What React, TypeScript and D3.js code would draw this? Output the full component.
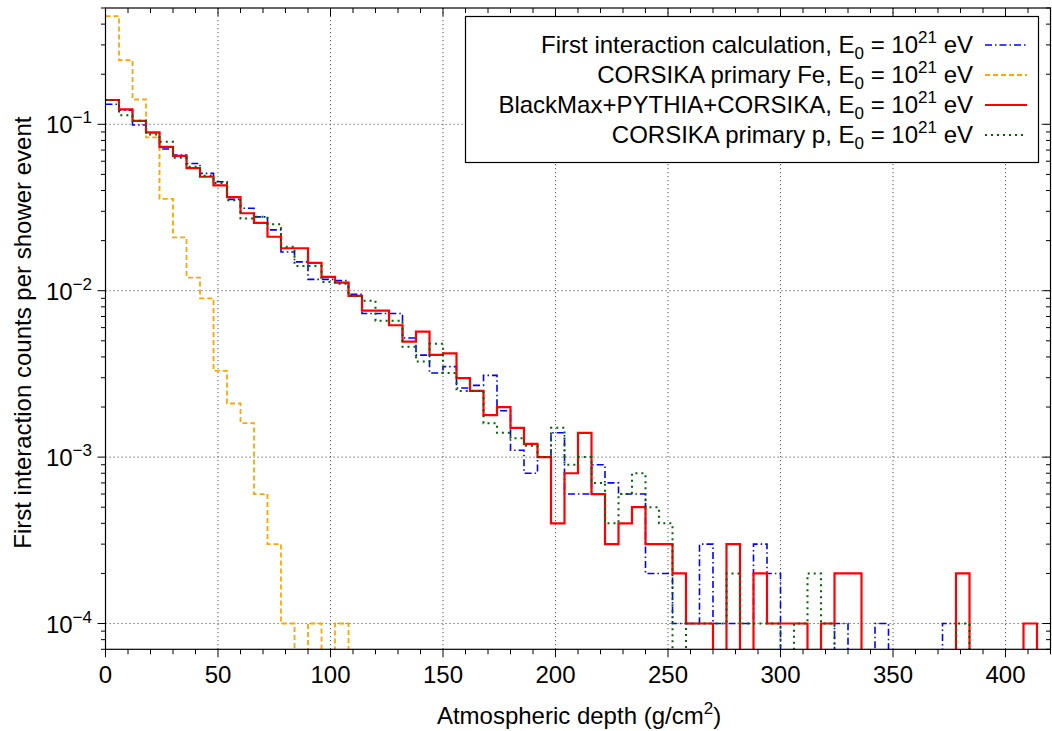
import React from "react";
import * as d3 from "d3";

// ---- data (bin width 6 g/cm^2, bins start at 0) ----
const BIN_WIDTH = 6;

const firstInteraction = [
  0.132, 0.1216, 0.099, 0.089, 0.071, 0.0653, 0.0582, 0.0507, 0.0452, 0.0354,
  0.0313, 0.0278, 0.0232, 0.0171, 0.0149, 0.0117, 0.0117, 0.0115, 0.0095, 0.0073,
  0.0073, 0.0073, 0.0052, 0.0041, 0.0032, 0.0035, 0.0026, 0.0027, 0.0031, 0.0019,
  0.0011, 0.0008, 0.001, 0.0014, 0.0006, 0.0006, 0.0009, 0.0007, 0.0006, 0.0006,
  0.0002, 0.0002, 0.0001, 0.0001, 0.0003, 0.0001, 0.0001, 0.0001, 0.0003, 0.0002,
  0, 0, 0, 0, 0.0001, 0, 0, 0.0001, 0, 0,
  0, 0, 0.0001, 0, 0, 0, 0, 0, 0, 0,
];

const corsikaFe = [
  0.447, 0.243, 0.141, 0.0834, 0.0356, 0.0209, 0.012, 0.009, 0.0033, 0.0021,
  0.0016, 0.0006, 0.0003, 0.0001, 0, 0.0001, 0, 0.0001, 0, 0,
];

const blackMax = [
  0.14, 0.123, 0.105, 0.0894, 0.0732, 0.0647, 0.0546, 0.0484, 0.043, 0.0365,
  0.0292, 0.0256, 0.0211, 0.018, 0.018, 0.0147, 0.0121, 0.0112, 0.0093, 0.0076,
  0.0076, 0.0062, 0.00494, 0.00568, 0.00411, 0.0042, 0.00298, 0.0025, 0.00179, 0.002,
  0.0015, 0.0012, 0.001, 0.0004, 0.0008, 0.0014, 0.0006, 0.0003, 0.0004, 0.0005,
  0.0003, 0.0003, 0.0002, 0.0001, 0.0001, 0, 0.0003, 0, 0.0002, 0.0001,
  0.0001, 0.0001, 0, 0.0001, 0.0002, 0.0002, 0, 0, 0, 0,
  0, 0, 0, 0.0002, 0, 0, 0, 0, 0.0001, 0,
];

const corsikaP = [
  0.14, 0.1135, 0.105, 0.087, 0.0786, 0.063, 0.0555, 0.049, 0.0444, 0.035,
  0.0272, 0.0278, 0.0251, 0.0184, 0.0141, 0.0141, 0.0113, 0.011, 0.0093, 0.0087,
  0.0066, 0.0066, 0.0046, 0.00375, 0.0048, 0.0032, 0.0025, 0.0025, 0.0016, 0.0014,
  0.0013, 0.00117, 0.001, 0.0015, 0.0009, 0.001, 0.0007, 0.0004, 0.0006, 0.0008,
  0.0005, 0.0004, 0, 0.0001, 0.0001, 0.0001, 0.0002, 0.0001, 0.0001, 0.0001,
  0, 0.0001, 0.0002, 0.0001, 0, 0, 0, 0, 0, 0,
  0, 0, 0, 0.0001, 0, 0, 0, 0, 0, 0,
];

const xTicks = [0, 50, 100, 150, 200, 250, 300, 350, 400];
const yTickExps = [-1, -2, -3, -4];

const series = [
  { name: "First interaction calculation, E", values: firstInteraction, color: "#0000ff", dash: "7,3,1.5,3", width: 1.6 },
  { name: "CORSIKA primary Fe, E", values: corsikaFe, color: "#ffa500", dash: "5,3", width: 1.8 },
  { name: "BlackMax+PYTHIA+CORSIKA, E", values: blackMax, color: "#ff0000", dash: "", width: 2.2 },
  { name: "CORSIKA primary p, E", values: corsikaP, color: "#006400", dash: "2,4", width: 2 },
];

const W = 1052;
const H = 731;
const L = 105.5;
const R = 1050.5;
const T = 8;
const B = 649.3;
const FONT = "'Liberation Sans', Arial, Helvetica, sans-serif";
const FS = 24;
const FS_SMALL = 17;

export default function App() {
  const x = d3.scaleLinear().domain([0, 420]).range([L, R]);
  const y = d3.scaleLog().domain([7e-5, 0.5]).range([B, T]);

  const line = d3
    .line<[number, number]>()
    .x((d) => x(d[0]))
    .y((d) => (d[1] > 0 ? y(d[1]) : B + 60))
    .curve(d3.curveStepAfter);

  const pathFor = (vals: number[]) => {
    const pts: [number, number][] = vals.map((v, i) => [i * BIN_WIDTH, v]);
    pts.push([vals.length * BIN_WIDTH, vals[vals.length - 1]]);
    return line(pts) || "";
  };

  const xMinor = d3.range(0, 421, 10);
  const yMinor: number[] = [];
  for (let e = -5; e <= -1; e++) {
    for (let m = 1; m <= 9; m++) {
      const v = m * Math.pow(10, e);
      if (v >= 7e-5 && v <= 0.5) yMinor.push(v);
    }
  }

  const legendTextX = 973;
  const legendRowY = [45, 75, 105, 135];

  return (
    <svg
      width={W}
      height={H}
      style={{ position: "absolute", left: 0, top: 0, background: "#fff" }}
      fontFamily={FONT}
    >
      <defs>
        <clipPath id="plotclip">
          <rect x={L} y={T} width={R - L} height={B - T} />
        </clipPath>
      </defs>
      <rect x={0} y={0} width={W} height={H} fill="#fff" />

      {/* grid */}
      <g stroke="#555" strokeWidth={1} strokeDasharray="1.2,2.8">
        {xTicks.slice(1).map((t) => (
          <line key={"gx" + t} x1={x(t)} x2={x(t)} y1={T} y2={B} />
        ))}
        {yTickExps.map((e) => (
          <line key={"gy" + e} x1={L} x2={R} y1={y(Math.pow(10, e))} y2={y(Math.pow(10, e))} />
        ))}
      </g>

      {/* series */}
      <g clipPath="url(#plotclip)" fill="none">
        {series.map((s) => (
          <path
            key={s.name}
            d={pathFor(s.values)}
            stroke={s.color}
            strokeWidth={s.width}
            strokeDasharray={s.dash || undefined}
          />
        ))}
      </g>

      {/* ticks */}
      <g stroke="#000" strokeWidth={1}>
        {xMinor.map((t) => {
          const major = t % 50 === 0;
          const len = major ? 8 : 5;
          return (
            <g key={"xt" + t}>
              <line x1={x(t)} x2={x(t)} y1={B} y2={B + len} />
              <line x1={x(t)} x2={x(t)} y1={T} y2={T + len} />
            </g>
          );
        })}
        {yMinor.map((v, i) => {
          const major = Math.abs(Math.log10(v) - Math.round(Math.log10(v))) < 1e-9;
          const len = major ? 8 : 4.5;
          return (
            <g key={"yt" + i}>
              <line x1={L - len} x2={L} y1={y(v)} y2={y(v)} />
              <line x1={R - len} x2={R} y1={y(v)} y2={y(v)} />
            </g>
          );
        })}
      </g>

      {/* frame */}
      <rect x={L} y={T} width={R - L} height={B - T} fill="none" stroke="#000" strokeWidth={1.2} />

      {/* tick labels */}
      <g fontSize={FS} fill="#000">
        {xTicks.map((t) => (
          <text key={"xl" + t} x={x(t)} y={683} textAnchor="middle">
            {t}
          </text>
        ))}
        {yTickExps.map((e) => (
          <text key={"yl" + e} x={92} y={y(Math.pow(10, e)) + 9} textAnchor="end">
            10
            <tspan dy={-10} fontSize={FS_SMALL}>
              {"\u2212" + Math.abs(e)}
            </tspan>
          </text>
        ))}
      </g>

      {/* axis titles */}
      <text x={(L + R) / 2 + 1} y={724} textAnchor="middle" fontSize={FS} fill="#000">
        Atmospheric depth (g/cm
        <tspan dy={-10} fontSize={FS_SMALL}>2</tspan>
        <tspan dy={10}>)</tspan>
      </text>
      <text
        transform={`translate(31, ${(T + B) / 2 + 4}) rotate(-90)`}
        textAnchor="middle"
        fontSize={FS}
        fill="#000"
      >
        First interaction counts per shower event
      </text>

      {/* legend */}
      <rect x={465.5} y={16.5} width={573} height={146} fill="#fff" stroke="#000" strokeWidth={1.2} />
      {series.map((s, i) => (
        <g key={"lg" + i}>
          <text x={legendTextX} y={legendRowY[i] + 8} textAnchor="end" fontSize={FS} fill="#000">
            {s.name}
            <tspan dy={6} fontSize={FS_SMALL}>0</tspan>
            <tspan dy={-6}>{" = 10"}</tspan>
            <tspan dy={-10} fontSize={FS_SMALL}>21</tspan>
            <tspan dy={10}>{" eV"}</tspan>
          </text>
          <line
            x1={985}
            x2={1027}
            y1={legendRowY[i]}
            y2={legendRowY[i]}
            stroke={s.color}
            strokeWidth={s.width}
            strokeDasharray={s.dash || undefined}
          />
        </g>
      ))}
    </svg>
  );
}
